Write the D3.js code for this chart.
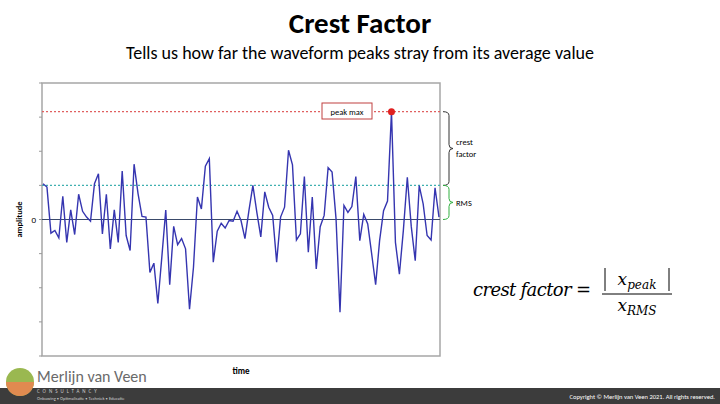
<!DOCTYPE html>
<html><head><meta charset="utf-8">
<script src="https://cdn.jsdelivr.net/npm/d3@7"></script>
<style>body{margin:0;background:#fff}svg{display:block;font-family:Calibri,Carlito,"Open Sans",sans-serif}</style>
</head><body><svg id="c" width="720" height="404"></svg>
<script>
const amplitude = [1.05,0.95,-0.40,-0.32,-0.54,0.68,-0.67,0.28,-0.44,0.74,0.24,0.07,-0.05,1.05,1.34,-0.42,0.74,-0.86,0.28,-0.67,1.42,-0.47,-0.91,1.62,0.76,0.09,0.07,-1.55,-1.28,-2.46,-1.11,0.28,-1.91,-0.20,-0.74,-0.56,-0.86,-2.63,-1.40,0.66,0.31,1.56,1.78,-1.25,-0.34,-0.11,-0.25,-0.03,-0.05,0.24,-0.03,
-0.56,0.26,1.00,0.21,-0.51,0.81,0.36,0.12,-1.25,0.07,0.36,2.03,1.60,-0.60,-0.42,1.26,-0.96,0.66,-1.45,-0.21,0.12,1.52,1.39,0.02,-2.72,0.41,0.21,0.38,1.26,-0.62,0.15,-0.13,-1.01,-1.91,-0.62,0.26,0.54,3.16,-0.67,-1.60,-0.32,1.24,-0.21,-1.21,0.99,0.46,-0.47,-0.60,0.93,0.07];
const rmsValue = 1.0;
const peakValue = d3.max(amplitude);
const yTicks = [-4,-3,-2,-1,0,1,2,3,4];

const svg = d3.select("#c");
const L=42,R=440,T=83,B=356;
const x = d3.scaleLinear().domain([0,amplitude.length-1]).range([L+1,R-1]);
const y = d3.scaleLinear().domain([-4,4]).range([B,T]);

svg.append("text").attr("x",360).attr("y",33).attr("text-anchor","middle").attr("font-size",29).attr("font-weight","bold").text("Crest Factor");
svg.append("text").attr("x",360).attr("y",59).attr("text-anchor","middle").attr("font-size",18).text("Tells us how far the waveform peaks stray from its average value");

svg.append("rect").attr("x",L).attr("y",T).attr("width",R-L).attr("height",B-T).attr("fill","#fff").attr("stroke","#a6a6a6").attr("stroke-width",1.5);
svg.append("g").selectAll("line").data(yTicks).join("line").attr("x1",L-3).attr("x2",L).attr("y1",d=>y(d)).attr("y2",d=>y(d)).attr("stroke","#999");
svg.append("text").attr("x",36).attr("y",y(0)+3).attr("text-anchor","end").attr("font-size",9).text("0");
svg.append("text").attr("transform",`translate(22,${y(0)}) rotate(-90)`).attr("text-anchor","middle").attr("font-size",8.5).attr("font-weight","bold").text("amplitude");
svg.append("text").attr("x",241).attr("y",374).attr("text-anchor","middle").attr("font-size",9).attr("font-weight","bold").text("time");

svg.append("line").attr("x1",L).attr("x2",R).attr("y1",y(0)).attr("y2",y(0)).attr("stroke","#3a4a6a").attr("stroke-width",1.2);
svg.append("line").attr("x1",L).attr("x2",R).attr("y1",y(peakValue)).attr("y2",y(peakValue)).attr("stroke","#e06060").attr("stroke-width",1.3).attr("stroke-dasharray","2,2");
svg.append("line").attr("x1",L).attr("x2",R).attr("y1",y(rmsValue)).attr("y2",y(rmsValue)).attr("stroke","#40b0b0").attr("stroke-width",1.3).attr("stroke-dasharray","2,2");

svg.append("path").datum(amplitude).attr("d",d3.line().x((d,i)=>x(i)).y(d=>y(d))).attr("fill","none").attr("stroke","#3535b0").attr("stroke-width",1.4);
const pi = amplitude.indexOf(peakValue);
svg.append("circle").attr("cx",x(pi)).attr("cy",y(peakValue)).attr("r",3.5).attr("fill","#e02020");
svg.append("rect").attr("x",322).attr("y",103).attr("width",50).attr("height",16).attr("fill","#fff").attr("stroke","#c04040");
svg.append("text").attr("x",347).attr("y",114.5).attr("text-anchor","middle").attr("font-size",8.5).text("peak max");

function brace(y1,y2,col){
  const xm=R+3, w=6, m=(y1+y2)/2;
  return svg.append("path").attr("d",`M${xm},${y1} Q${xm+w},${y1} ${xm+w},${y1+4} L${xm+w},${m-4} Q${xm+w},${m} ${xm+w+4},${m} Q${xm+w},${m} ${xm+w},${m+4} L${xm+w},${y2-4} Q${xm+w},${y2} ${xm},${y2}`).attr("fill","none").attr("stroke",col).attr("stroke-width",1);
}
brace(y(peakValue),y(rmsValue),"#333");
brace(y(rmsValue),y(0),"#30b040");
svg.append("text").attr("x",456).attr("y",145).attr("font-size",8.5).text("crest");
svg.append("text").attr("x",456).attr("y",157).attr("font-size",8.5).text("factor");
svg.append("text").attr("x",456).attr("y",206).attr("font-size",8.5).text("RMS");

const f = svg.append("g").attr("font-family","'DejaVu Serif','Liberation Serif',serif").attr("font-style","italic");
f.append("text").attr("x",473).attr("y",296).attr("font-size",18).attr("textLength",118).text("crest factor =");
f.append("text").attr("x",637).attr("y",285).attr("text-anchor","middle").attr("font-size",17).html('x<tspan font-size="12" dy="4">peak</tspan>');
f.append("line").attr("x1",602).attr("x2",672).attr("y1",294).attr("y2",294).attr("stroke","#000").attr("stroke-width",1);
f.append("line").attr("x1",605).attr("x2",605).attr("y1",268).attr("y2",291).attr("stroke","#000");
f.append("line").attr("x1",669).attr("x2",669).attr("y1",268).attr("y2",291).attr("stroke","#000");
f.append("text").attr("x",637).attr("y",311).attr("text-anchor","middle").attr("font-size",17).html('x<tspan font-size="12" dy="4">RMS</tspan>');

svg.append("rect").attr("x",0).attr("y",388).attr("width",720).attr("height",16).attr("fill","#3c3c3c");
svg.append("text").attr("x",715).attr("y",399).attr("text-anchor","end").attr("font-size",6.5).attr("fill","#fff").text("Copyright © Merlijn van Veen 2021. All rights reserved.");
const lg = svg.append("g");
lg.append("circle").attr("cx",20).attr("cy",382).attr("r",14).attr("fill","#9ab850");
lg.append("path").attr("d","M6,382 A14,14 0 0 0 34,382 Z").attr("fill","#e08a50");
svg.append("text").attr("x",37).attr("y",382).attr("font-size",16).attr("fill","#6a6a6a").text("Merlijn van Veen");
svg.append("text").attr("x",37).attr("y",393).attr("font-size",5).attr("fill","#ccc").attr("letter-spacing",3).text("CONSULTANCY");
svg.append("text").attr("x",37).attr("y",400).attr("font-size",4.5).attr("fill","#ccc").text("Onbuwing • Optimalisatie • Techniek • Educatie");
</script></body></html>
